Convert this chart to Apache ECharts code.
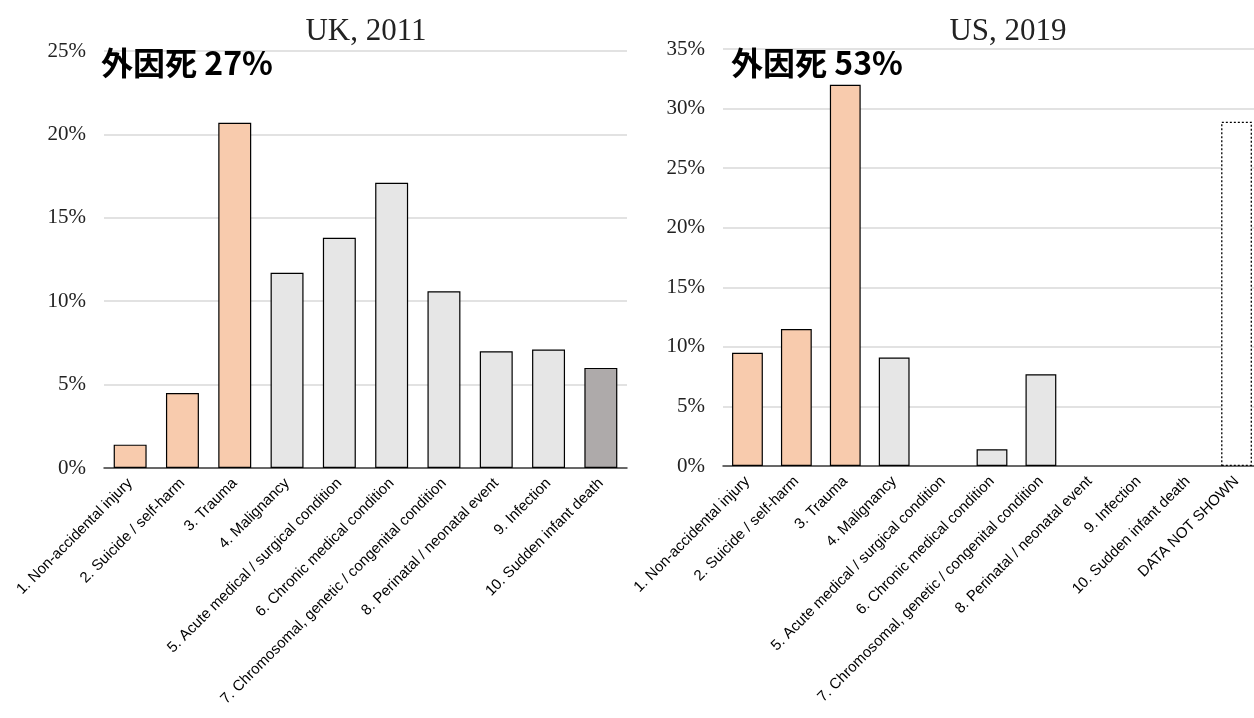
<!DOCTYPE html>
<html>
<head>
<meta charset="utf-8">
<script src="https://cdn.jsdelivr.net/npm/echarts@6/dist/echarts.min.js"></script>
<style>
  html, body { margin: 0; padding: 0; background: #fff; }
  #chart { width: 1254px; height: 718px; }
</style>
</head>
<body>
<div id="chart"></div>
<script>
// categories
var ukCats = ['1. Non-accidental injury', '2. Suicide / self-harm', '3. Trauma', '4. Malignancy',
  '5. Acute medical / surgical condition', '6. Chronic medical condition',
  '7. Chromosomal, genetic / congenital condition', '8. Perinatal / neonatal event',
  '9. Infection', '10. Sudden infant death'];
var usCats = ukCats.concat(['DATA NOT SHOWN']);

// values (%)
var ukValues = [1.4, 4.5, 20.7, 11.7, 13.8, 17.1, 10.6, 7.0, 7.1, 6.0];
var usValues = [9.5, 11.5, 32.0, 9.1, 0, 1.4, 7.7, 0, 0, 0, 28.9];

// group of each category: ext = 外因, int = 内因, sid = sudden infant death, na = not shown
var ukGroup = ['ext', 'ext', 'ext', 'int', 'int', 'int', 'int', 'int', 'int', 'sid'];
var usGroup = ['ext', 'ext', 'ext', 'int', 'int', 'int', 'int', 'int', 'int', 'sid', 'na'];

var ukTicks = { max: 25, step: 5 };
var usTicks = { max: 35, step: 5 };

var titles = ['UK, 2011', 'US, 2019'];
var extLabels = ['外因死 27%', '外因死 53%'];

var colors = { ext: '#F8CBAD', int: '#E6E6E6', sid: '#AEAAAA', na: '#FFFFFF' };

function barData(vals, groups) {
  return vals.map(function (v, i) {
    var g = groups[i];
    return {
      value: v,
      itemStyle: {
        color: colors[g],
        borderColor: '#000',
        borderWidth: v === 0 ? 0 : (g == 'na' ? 1.3 : 1.2),   // 0% -> nothing drawn
        borderType: g == 'na' ? [2, 2] : 'solid'
      }
    };
  });
}

function xAxisCfg(idx, cats) {
  return {
    type: 'category', gridIndex: idx, data: cats,
    axisTick: { show: false },
    axisLine: { lineStyle: { color: '#404040', width: 1.5 } },
    axisLabel: {
      interval: 0, rotate: 45, margin: 13,
      fontFamily: 'Liberation Sans', fontSize: 15, color: '#000'
    }
  };
}

function yAxisCfg(idx, t) {
  return {
    type: 'value', gridIndex: idx, min: 0, max: t.max, interval: t.step,
    axisLine: { show: false }, axisTick: { show: false },
    splitLine: { lineStyle: { color: '#D9D9D9', width: 1.5 } },
    axisLabel: {
      formatter: '{value}%', margin: 18,
      fontFamily: 'Liberation Serif', fontSize: 21, color: '#222'
    }
  };
}

var chart = echarts.init(document.getElementById('chart'));
chart.setOption({
  animation: false,
  title: [
    { text: titles[0], left: 361, top: 11, textAlign: 'center',
      textStyle: { fontFamily: 'Liberation Serif', fontWeight: 'normal', fontSize: 31, color: '#222' } },
    { text: titles[1], left: 1003, top: 11, textAlign: 'center',
      textStyle: { fontFamily: 'Liberation Serif', fontWeight: 'normal', fontSize: 31, color: '#222' } },
    { text: extLabels[0], left: 96, top: 42,
      textStyle: { fontFamily: 'Noto Sans CJK JP', fontWeight: 'bold', fontSize: 32, color: '#000' } },
    { text: extLabels[1], left: 726, top: 42,
      textStyle: { fontFamily: 'Noto Sans CJK JP', fontWeight: 'bold', fontSize: 32, color: '#000' } }
  ],
  grid: [
    { left: 104, top: 51, width: 523, height: 417, outerBoundsMode: 'none' },
    { left: 723, top: 49, width: 538, height: 417, outerBoundsMode: 'none' }
  ],
  xAxis: [xAxisCfg(0, ukCats), xAxisCfg(1, usCats)],
  yAxis: [yAxisCfg(0, ukTicks), yAxisCfg(1, usTicks)],
  series: [
    { type: 'bar', xAxisIndex: 0, yAxisIndex: 0, barWidth: '63%', data: barData(ukValues, ukGroup) },
    { type: 'bar', xAxisIndex: 1, yAxisIndex: 1, barWidth: '63%', data: barData(usValues, usGroup) }
  ]
});
</script>
</body>
</html>
